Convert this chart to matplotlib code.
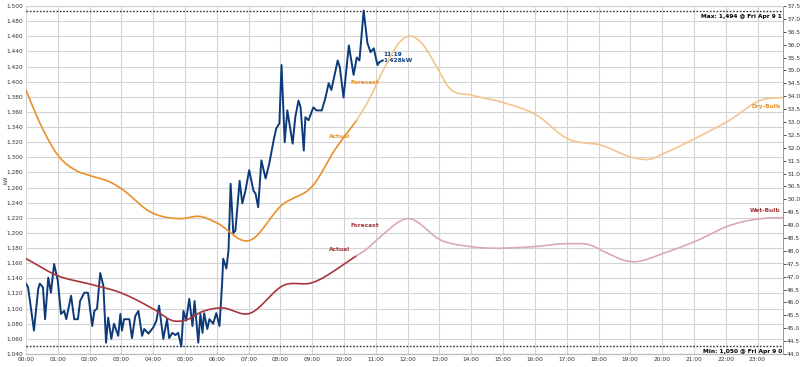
import numpy as np
import matplotlib.pyplot as plt

# ── Demand readings: minutes after midnight / kW ─────────────────
kw_minutes = [0, 4, 15, 23, 26, 32, 36, 42, 47, 53, 60, 66, 72, 76, 85, 91, 98, 102,
              110, 117, 125, 129, 134, 140, 146, 151, 155, 161, 166, 174, 178, 181,
              185, 195, 200, 206, 212, 219, 223, 231, 240, 246, 251, 259, 266, 270,
              276, 282, 287, 293, 297, 302, 308, 314, 318, 325, 329, 333, 336, 342,
              346, 353, 359, 365, 370, 372, 378, 382, 386, 391, 395, 403, 408, 414,
              421, 429, 433, 438, 444, 452, 459, 467, 472, 478, 482, 488, 493, 503,
              508, 514, 518, 524, 527, 533, 542, 548, 558, 565, 571, 576, 588, 592,
              599, 609, 618, 624, 629, 637, 644, 650, 656, 663, 667, 673]
kw_values = [1.133, 1.128, 1.071, 1.126, 1.133, 1.128, 1.086, 1.141, 1.121, 1.159,
             1.137, 1.093, 1.097, 1.086, 1.117, 1.086, 1.086, 1.110, 1.121, 1.121,
             1.077, 1.097, 1.100, 1.147, 1.130, 1.055, 1.088, 1.060, 1.080, 1.064,
             1.093, 1.071, 1.086, 1.086, 1.061, 1.090, 1.097, 1.064, 1.073, 1.067,
             1.075, 1.084, 1.104, 1.060, 1.086, 1.061, 1.068, 1.065, 1.068, 1.050,
             1.097, 1.084, 1.113, 1.077, 1.110, 1.055, 1.093, 1.068, 1.094, 1.073,
             1.086, 1.080, 1.094, 1.077, 1.134, 1.166, 1.153, 1.177, 1.265, 1.200,
             1.203, 1.269, 1.239, 1.256, 1.283, 1.256, 1.252, 1.234, 1.296, 1.272,
             1.292, 1.322, 1.338, 1.345, 1.422, 1.320, 1.362, 1.318, 1.353, 1.375,
             1.366, 1.309, 1.353, 1.349, 1.366, 1.362, 1.362, 1.379, 1.398, 1.389,
             1.428, 1.419, 1.379, 1.448, 1.409, 1.432, 1.428, 1.494, 1.451, 1.439,
             1.444, 1.422, 1.426, 1.428]

# ── Temperatures: hour / deg F ───────────────────────────────────
dry_hours = [0.00, 0.47, 1.01, 1.57, 2.02, 2.68, 2.99, 3.94, 4.82, 5.51, 5.98, 7.02,
             8.03, 9.07, 9.70, 9.92, 10.39, 10.77, 11.28, 11.72, 12.03, 12.44, 12.85,
             13.29, 14.02, 14.96, 16.06, 17.01, 18.11, 19.06, 19.59, 20.06, 21.10,
             22.11, 23.09, 24.00]
dry_temps = [54.23, 52.87, 51.70, 51.12, 50.92, 50.65, 50.42, 49.49, 49.25, 49.33,
             49.10, 48.40, 49.76, 50.61, 51.90, 52.29, 53.06, 53.84, 55.13, 56.06,
             56.33, 56.06, 55.28, 54.35, 54.04, 53.77, 53.26, 52.36, 52.09, 51.63,
             51.55, 51.78, 52.40, 53.06, 53.84, 53.96]
wet_hours = [0.00, 1.01, 1.98, 2.99, 4.00, 4.66, 5.04, 5.51, 6.14, 6.99, 8.13, 8.98,
             10.02, 10.39, 10.65, 11.18, 11.97, 13.07, 14.02, 15.91, 17.01, 17.80,
             18.11, 19.06, 20.09, 21.10, 22.11, 23.09, 24.00]
wet_temps = [47.70, 47.03, 46.72, 46.37, 45.75, 45.28, 45.32, 45.63, 45.79, 45.56,
             46.68, 46.76, 47.50, 47.81, 48.01, 48.59, 49.25, 48.40, 48.16, 48.16,
             48.28, 48.20, 48.01, 47.58, 47.93, 48.40, 48.98, 49.25, 49.29]
forecast_from = 10.39

kw_max, kw_min = 1.494, 1.050
x_labels = [f"{h:02d}:00" for h in range(24)]

# ── Colours ──────────────────────────────────────────────────────
BLUE = "#0d3b7a"
DRY_ACT, DRY_FC = "#e8912c", "#f4c48e"
WET_ACT, WET_FC = "#a8363d", "#d9aab0"
GRID = "#d4d4d4"
TXT = "#333333"
FS = 4.2


# smooth drawing path through the read points (cubic Hermite)
def smooth(x, y, n=16):
    x = np.asarray(x, float)
    y = np.asarray(y, float)
    m = np.gradient(y, x)
    t = np.linspace(0, 1, n, endpoint=False)
    h00 = 2 * t**3 - 3 * t**2 + 1
    h10 = t**3 - 2 * t**2 + t
    h01 = -2 * t**3 + 3 * t**2
    h11 = t**3 - t**2
    xs, ys = [], []
    for i in range(len(x) - 1):
        h = x[i + 1] - x[i]
        xs.append(x[i] + t * h)
        ys.append(h00 * y[i] + h10 * h * m[i] + h01 * y[i + 1] + h11 * h * m[i + 1])
    xs.append([x[-1]])
    ys.append([y[-1]])
    return np.concatenate(xs), np.concatenate(ys)


fig = plt.figure(figsize=(8, 3.67), dpi=100)
ax = fig.add_axes([26 / 800, 13 / 367, 757 / 800, 348 / 367])
ax2 = ax.twinx()

hours = np.array(kw_minutes) / 60.0
ax.plot(hours, kw_values, color=BLUE, lw=1.4, zorder=5)

# temperature curves on the right axis, split actual / forecast
for hrs, temps, c_act, c_fc in [(dry_hours, dry_temps, DRY_ACT, DRY_FC),
                                (wet_hours, wet_temps, WET_ACT, WET_FC)]:
    sx, sy = smooth(hrs, temps)
    act = sx <= forecast_from
    fc = sx >= forecast_from - 0.02
    ax2.plot(sx[act], sy[act], color=c_act, lw=1.2)
    ax2.plot(sx[fc], sy[fc], color=c_fc, lw=1.2)

# ── Max / min markers ────────────────────────────────────────────
for v in (kw_max, kw_min):
    ax.axhline(v, color=TXT, lw=1.0, ls=(0, (1.2, 1.2)), zorder=4)
ax.text(23.78, kw_max - 0.004, "Max: 1,494 @ Fri Apr 9 1", fontsize=FS,
        fontweight="bold", ha="right", va="top")
ax.text(23.78, kw_min - 0.004, "Min: 1,050 @ Fri Apr 9 0", fontsize=FS,
        fontweight="bold", ha="right", va="top")

ax.text(11.25, 1.432, "11:19\n1,428kW", fontsize=FS, fontweight="bold",
        color=BLUE, ha="left", va="center", linespacing=1.3)

# series labels
ax2.text(9.85, 52.45, "Actual", color=DRY_ACT, fontsize=FS, fontweight="bold",
         ha="center", va="center")
ax2.text(10.65, 54.55, "Forecast", color=DRY_ACT, fontsize=FS, fontweight="bold",
         ha="center", va="center")
ax2.text(9.85, 48.05, "Actual", color=WET_ACT, fontsize=FS, fontweight="bold",
         ha="center", va="center")
ax2.text(10.65, 49.0, "Forecast", color=WET_ACT, fontsize=FS, fontweight="bold",
         ha="center", va="center")
ax2.text(23.72, 53.6, "Dry-Bulb", color=DRY_ACT, fontsize=FS, fontweight="bold",
         ha="right", va="center")
ax2.text(23.72, 49.55, "Wet-Bulb", color=WET_ACT, fontsize=FS, fontweight="bold",
         ha="right", va="center")

# ── Axes ─────────────────────────────────────────────────────────
ax.set_xlim(0, 23.8)
ax.set_ylim(1.040, 1.500)
ax.set_yticks(np.arange(1.040, 1.5001, 0.02))
ax.set_yticklabels([f"{v:.3f}" for v in np.arange(1.040, 1.5001, 0.02)])
ax.set_xticks(range(24))
ax.set_xticklabels(x_labels)
ax.tick_params(axis="both", labelsize=FS, length=0, pad=2, colors=TXT)
ax.grid(True, color=GRID, lw=0.8)
ax.set_axisbelow(True)
# "kW" sits in the gap between the 1.280 and 1.260 labels
fig.text(6 / 800, 1 - 180 / 367, "kW", fontsize=3.8, rotation=90, color=TXT,
         ha="center", va="center")

ax2.set_ylim(44.0, 57.5)
ax2.set_yticks(np.arange(44.0, 57.51, 0.5))
ax2.set_yticklabels([f"{v:.1f}" for v in np.arange(44.0, 57.51, 0.5)])
ax2.tick_params(axis="y", labelsize=FS, length=2, width=0.6, pad=1,
                colors=TXT)

for a in (ax, ax2):
    a.spines["left"].set_visible(False)
    a.spines["top"].set_color(GRID)
    a.spines["bottom"].set_color("#bbbbbb")
    a.spines["right"].set_color("#999999")
    a.spines["right"].set_linewidth(0.7)

fig.savefig("out.png", dpi=100)
